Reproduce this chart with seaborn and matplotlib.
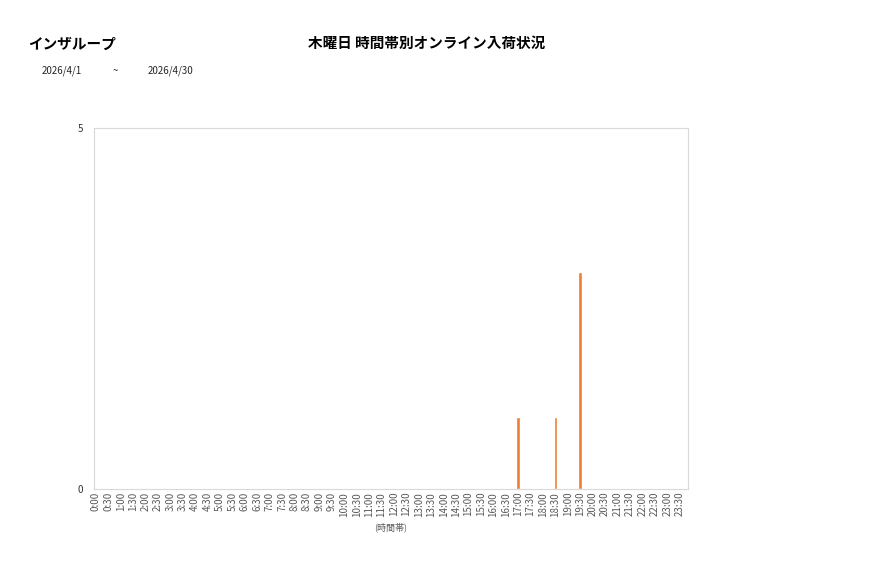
import pandas as pd
import seaborn as sns
import matplotlib.pyplot as plt

# 30分刻みの時間帯
times = [f"{h}:{m:02d}" for h in range(24) for m in (0, 30)]
counts = [0] * 48
counts[times.index("17:00")] = 1
counts[times.index("18:30")] = 1
counts[times.index("19:30")] = 3

df = pd.DataFrame({"時間帯": times, "件数": counts})

sns.set_theme(style="white")
plt.rcParams['font.family'] = ['Noto Sans CJK JP', 'DejaVu Sans']

fig = plt.figure(figsize=(8.77, 5.78), dpi=100)
ax = fig.add_axes([0.107, 0.154, 0.677, 0.625])
sns.barplot(data=df, x="時間帯", y="件数", color="#ED7D31", width=0.3,
            saturation=1, ax=ax)

ax.set_ylim(0, 5)
ax.set_yticks([0, 5])
ax.set_xlim(-0.16, 47.64)
ax.tick_params(axis="x", labelrotation=90, labelsize=7, colors="#595959", length=0, pad=2)
ax.tick_params(axis="y", labelsize=7, colors="#333333", length=0, pad=8)
ax.set_xlabel("(時間帯)", fontsize=6.5, color="#595959", labelpad=4)
ax.set_ylabel("")
for s in ax.spines.values():
    s.set_color("#D9D9D9")
    s.set_linewidth(0.8)

fig.text(0.487, 0.925, "木曜日 時間帯別オンライン入荷状況", ha="center", va="center",
         fontsize=10.5, fontweight="bold", color="#000000")
fig.text(0.032, 0.925, "インザループ", ha="left", va="center",
         fontsize=10.5, fontweight="bold", color="#000000")
fig.text(0.048, 0.877, "2026/4/1", ha="left", va="center", fontsize=7)
fig.text(0.131, 0.877, "~", ha="center", va="center", fontsize=7)
fig.text(0.168, 0.877, "2026/4/30", ha="left", va="center", fontsize=7)

fig.savefig("out.png", dpi=100)
